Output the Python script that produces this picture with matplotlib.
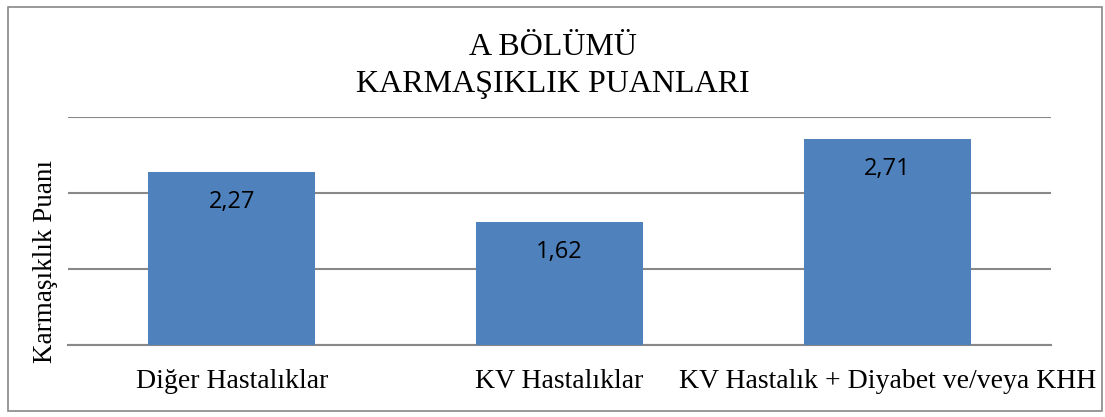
import matplotlib
matplotlib.use("Agg")
import matplotlib.pyplot as plt
from matplotlib.patches import Rectangle

categories = ["Diğer Hastalıklar", "KV Hastalıklar", "KV Hastalık + Diyabet ve/veya KHH"]
values = [2.27, 1.62, 2.71]
value_labels = ["2,27", "1,62", "2,71"]
title_text = "A BÖLÜMÜ\nKARMAŞIKLIK PUANLARI"
ylabel_text = "Karmaşıklık Puanı"

serif = ["Liberation Serif", "DejaVu Serif"]
sans = ["Open Sans", "Liberation Sans", "DejaVu Sans"]

fig = plt.figure(figsize=(11.05, 4.17), dpi=100)
ax = fig.add_axes([68/1105, 1-345/417, (1051-68)/1105, (345-117)/417])

x = list(range(len(categories)))
ax.bar(x, values, width=0.51, color="#4F81BD", zorder=3)
ax.set_xlim(-0.5, len(categories)-0.5)
ax.set_ylim(0, 3)
ax.set_yticks([0, 1, 2, 3])
ax.set_yticklabels([])
ax.yaxis.grid(True, color="#888888", linewidth=1.5, zorder=0)
ax.tick_params(axis="both", length=0)
ax.set_xticks(x)
ax.set_xticklabels(categories, fontfamily=serif, fontsize=20)
ax.tick_params(axis="x", pad=17)
for s in ["top", "right", "left"]:
    ax.spines[s].set_visible(False)
ax.spines["bottom"].set_color("#888888")
ax.spines["bottom"].set_linewidth(1.5)

for xi, v, lab in zip(x, values, value_labels):
    ax.annotate(lab, (xi, v), xytext=(0, -21.5), textcoords="offset points",
                ha="center", va="center", fontsize=17, family=sans, zorder=4)

ax.set_ylabel(ylabel_text, fontfamily=serif, fontsize=19.5)
ax.yaxis.set_label_coords(-0.010, 0.368)
fig.text(0.5, 1-66/417, title_text, ha="center", va="center", fontsize=23,
         family=serif, linespacing=1.32)

fig.patches.append(Rectangle((8/1105, 1-411/417), (1102-8)/1105, (411-7)/417,
                             transform=fig.transFigure, fill=False,
                             edgecolor="#888888", linewidth=1.2))
fig.savefig("out.png", dpi=100)
